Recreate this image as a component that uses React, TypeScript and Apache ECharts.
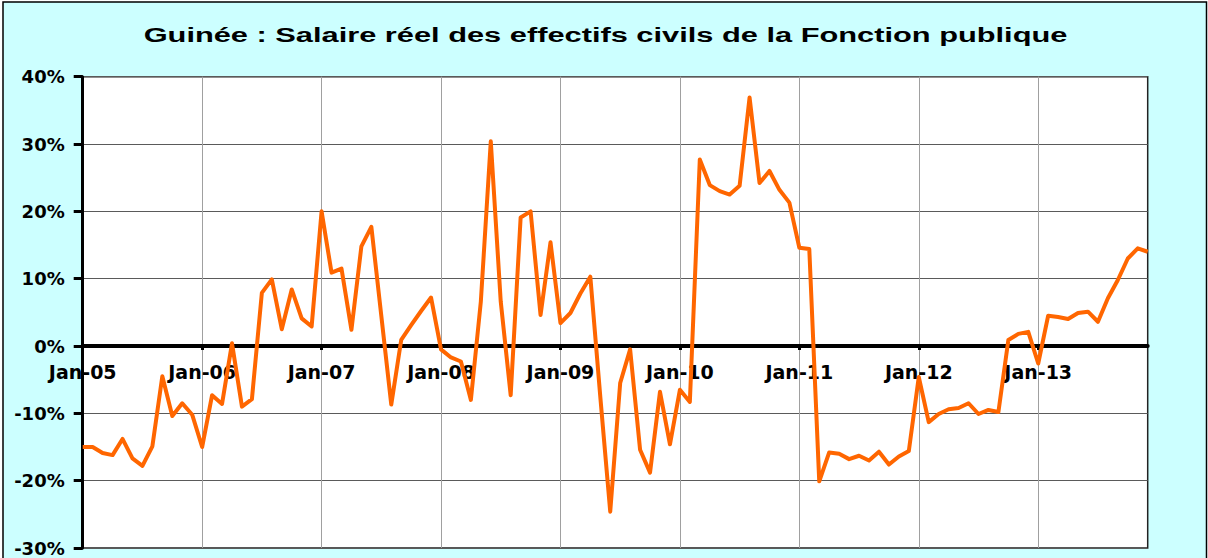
import React, { useEffect, useRef } from "react";
import * as echarts from "echarts";

const years = ["05", "06", "07", "08", "09", "10", "11", "12", "13"];
const monthNames = ["Jan", "Feb", "Mar", "Apr", "May", "Jun", "Jul", "Aug", "Sep", "Oct", "Nov", "Dec"];
const categories: string[] = [];
years.forEach((y) => monthNames.forEach((m) => categories.push(m + "-" + y)));

const salaireReel = [
  -15.0, -15.0, -15.9, -16.2, -13.8, -16.7, -17.8, -14.9, -4.5, -10.4, -8.5, -10.2,
  -15.0, -7.3, -8.6, 0.4, -9.0, -7.9, 7.9, 9.9, 2.5, 8.4, 4.1, 2.9,
  20.0, 10.9, 11.5, 2.4, 14.8, 17.7, 4.5, -8.7, 0.9, 3.1, 5.2, 7.2,
  -0.5, -1.7, -2.3, -8.0, 6.6, 30.4, 6.6, -7.3, 19.1, 20.0, 4.6, 15.4,
  3.4, 4.9, 7.8, 10.3, -7.5, -24.6, -5.5, -0.5, -15.4, -18.8, -6.8, -14.6,
  -6.5, -8.3, 27.7, 23.9, 23.0, 22.5, 23.8, 36.9, 24.2, 26.0, 23.2, 21.3,
  14.6, 14.4, -20.1, -15.8, -16.0, -16.8, -16.3, -17.0, -15.7, -17.6, -16.4, -15.6,
  -4.6, -11.3, -10.1, -9.4, -9.2, -8.5, -10.1, -9.5, -9.8, 0.9, 1.8, 2.1,
  -2.6, 4.5, 4.3, 4.0, 4.9, 5.1, 3.6, 7.1, 9.8, 13.0, 14.5, 14.0,
];

const title = "Guinée : Salaire réel des effectifs civils de la Fonction publique";
const yMin = -30;
const yMax = 40;
const yStep = 10;

const gridTop = 76.7;
const gridBottomPx = 548;
const isJan = (i: number) => i % 12 === 0;

export default function App() {
  const ref = useRef<HTMLDivElement>(null);
  useEffect(() => {
    if (!ref.current) return;
    const chart = echarts.init(ref.current, undefined, { renderer: "svg" });
    const plotH = gridBottomPx - gridTop;
    const zeroOffset = -(plotH * (0 - yMin)) / (yMax - yMin);
    chart.setOption({
      animation: false,
      backgroundColor: "#ffffff",
      graphic: [
        {
          type: "rect",
          z: -10,
          shape: { x: 3, y: 2, width: 1203.5, height: 560 },
          style: { fill: "#CCFFFF", stroke: "#000", lineWidth: 1.5 },
        },
        {
          type: "text",
          x: 605.5,
          y: 35,
          scaleX: 1.54,
          style: {
            text: title,
            fontFamily: "Liberation Sans",
            fontWeight: "bold",
            fontSize: 20,
            fill: "#000",
            align: "center",
            verticalAlign: "middle",
          },
        },
      ],
      grid: {
        left: 82.7,
        right: 60.3,
        top: gridTop,
        bottom: 558 - gridBottomPx,
        outerBoundsMode: "none",
        containLabel: false,
        show: true,
        backgroundColor: "#ffffff",
        borderColor: "#222",
        borderWidth: 1.5,
      },
      xAxis: {
        type: "category",
        data: categories,
        boundaryGap: false,
        position: "bottom",
        offset: zeroOffset,
        axisLine: { onZero: false, lineStyle: { color: "#000", width: 4 } },
        axisTick: {
          show: true,
          interval: (i: number) => isJan(i),
          length: 4,
          lineStyle: { color: "#000", width: 3 },
        },
        axisLabel: {
          interval: (i: number) => isJan(i),
          margin: 16,
          fontFamily: "DejaVu Sans",
          fontWeight: "bold",
          fontSize: 19,
          color: "#000",
        },
        splitLine: {
          show: true,
          interval: (i: number) => isJan(i),
          lineStyle: { color: "#a0a0a0", width: 1 },
        },
      },
      yAxis: {
        type: "value",
        min: yMin,
        max: yMax,
        interval: yStep,
        axisLine: { show: true, lineStyle: { color: "#000", width: 3 } },
        axisTick: { show: true, length: 9, lineStyle: { color: "#000", width: 3 } },
        axisLabel: {
          margin: 18,
          formatter: (v: number) => v + "%",
          fontFamily: "DejaVu Sans",
          fontWeight: "bold",
          fontSize: 18,
          color: "#000",
        },
        splitLine: { show: true, lineStyle: { color: "#5a5a5a", width: 1 } },
      },
      series: [
        {
          type: "line",
          data: salaireReel,
          symbol: "none",
          lineStyle: { color: "#FF6600", width: 4, join: "round" },
        },
      ],
    });
    return () => chart.dispose();
  }, []);
  return (
    <div
      ref={ref}
      style={{ position: "fixed", left: 0, top: 0, width: 1208, height: 558 }}
    />
  );
}
